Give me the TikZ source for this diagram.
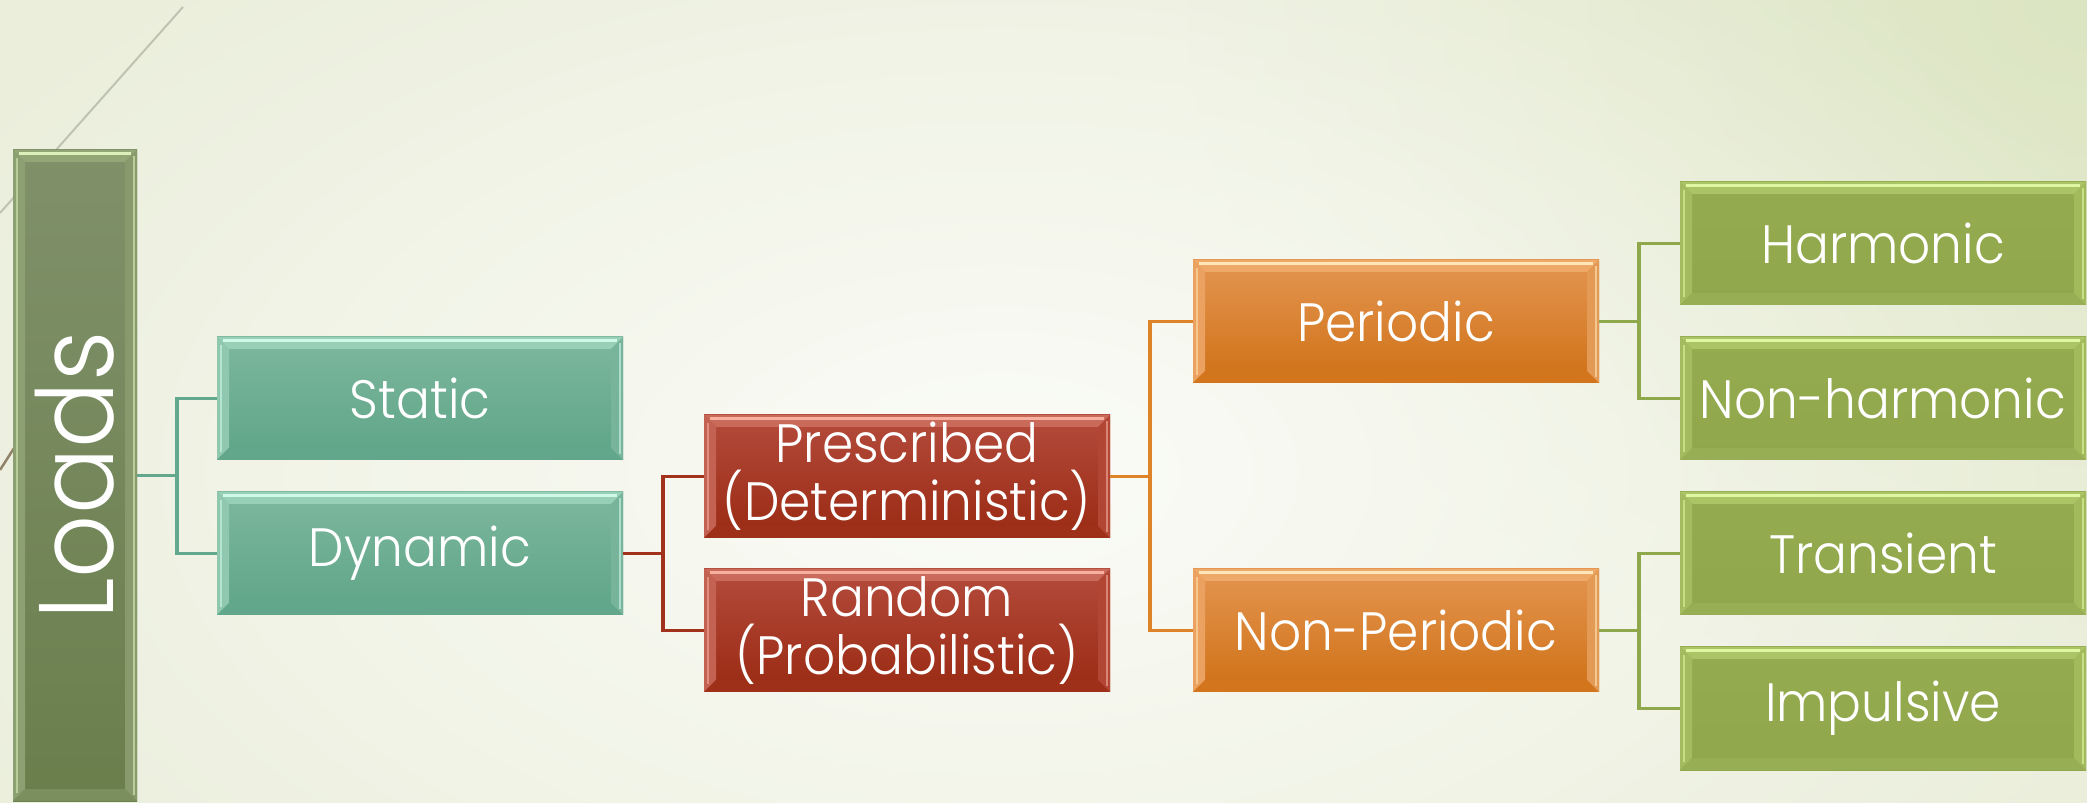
\documentclass[tikz,border=0pt]{standalone}
\usepackage{fontspec}
\IfFontExistsTF{Poppins Light}
  {\setmainfont{Poppins Light}[FakeStretch=0.93]}
  {\setmainfont{Poppins}[FakeStretch=0.93]}
\usepackage{graphicx}
\usetikzlibrary{calc,fadings}

\tikzfading[name=soft glow, inner color=transparent!0, outer color=transparent!100]

% palette: <name>top / bot = body gradient, lt = left/top bevel, hl = edge highlight,
% dk = bottom bevel, rt = right bevel, line = connector colour
\definecolor{bgbase}{HTML}{EAEEDA}
\definecolor{bgcentre}{HTML}{FBFCF8}
\definecolor{bgcorner}{HTML}{DCE5C2}

\definecolor{tealtop}{HTML}{7DB79E}
\definecolor{tealbot}{HTML}{5EA588}
\definecolor{teallt}{HTML}{98CFB7}
\definecolor{tealhl}{HTML}{CFF8E8}
\definecolor{tealdk}{HTML}{62A68B}
\definecolor{tealrt}{HTML}{78B49C}
\definecolor{tealline}{HTML}{62A88C}

\definecolor{redtop}{HTML}{B44B3C}
\definecolor{redbot}{HTML}{9A2A13}
\definecolor{redlt}{HTML}{C96A5B}
\definecolor{redhl}{HTML}{F7B0A0}
\definecolor{reddk}{HTML}{9E2F18}
\definecolor{redrt}{HTML}{B24634}
\definecolor{redline}{HTML}{A3321D}

\definecolor{orangetop}{HTML}{E49551}
\definecolor{orangebot}{HTML}{CF7116}
\definecolor{orangelt}{HTML}{EEA868}
\definecolor{orangehl}{HTML}{FFE6B8}
\definecolor{orangedk}{HTML}{D2751C}
\definecolor{orangert}{HTML}{E39A55}
\definecolor{orangeline}{HTML}{DE8328}

\definecolor{greentop}{HTML}{95AB50}
\definecolor{greenbot}{HTML}{91A74C}
\definecolor{greenlt}{HTML}{AAC466}
\definecolor{greenhl}{HTML}{E0F7A2}
\definecolor{greendk}{HTML}{98AE54}
\definecolor{greenrt}{HTML}{A2BA5C}
\definecolor{greenline}{HTML}{8FA84C}

\definecolor{olivetop}{HTML}{80916A}
\definecolor{olivebot}{HTML}{6A7E4C}
\definecolor{olivelt}{HTML}{93A676}
\definecolor{olivehl}{HTML}{DCF0BC}
\definecolor{olivedk}{HTML}{7A8E5E}
\definecolor{olivert}{HTML}{889A6C}

\tikzset{
  x=1pt, y=1pt,
  bevel/.style={
    rectangle, inner sep=0pt, text=white, align=center,
    top color=#1top, bottom color=#1bot,
    path picture={
      \path (path picture bounding box.north west) coordinate (pNW)
            (path picture bounding box.north east) coordinate (pNE)
            (path picture bounding box.south west) coordinate (pSW)
            (path picture bounding box.south east) coordinate (pSE);
      % top, left, bottom and right bevel faces
      \fill[#1lt] (pNW) -- (pNE) -- ([shift={(-12,-12)}]pNE) -- ([shift={(12,-12)}]pNW) -- cycle;
      \fill[#1lt!70!#1top] (pNW) -- ([shift={(12,-12)}]pNW) -- ([shift={(12,12)}]pSW) -- (pSW) -- cycle;
      \fill[#1dk] (pSW) -- ([shift={(12,12)}]pSW) -- ([shift={(-12,12)}]pSE) -- (pSE) -- cycle;
      \fill[#1rt] (pNE) -- (pSE) -- ([shift={(-12,12)}]pSE) -- ([shift={(-12,-12)}]pNE) -- cycle;
      % thin highlights along the edges
      \draw[#1hl, line width=3pt] ([shift={(6,-3.5)}]pNW) -- ([shift={(-6,-3.5)}]pNE);
      \draw[#1hl!60!#1rt, line width=2.5pt] ([shift={(-3,-6)}]pNE) -- ([shift={(-3,6)}]pSE);
      \draw[#1hl!50!#1lt, line width=2pt] ([shift={(4,-8)}]pNW) -- ([shift={(4,8)}]pSW);
    }
  },
  item/.style={bevel=#1, minimum width=406pt, minimum height=123pt,
    font=\fontsize{54}{58}\selectfont},
  link/.style={line width=3.5pt, draw=#1, line join=miter},
}

\begin{document}
\begin{tikzpicture}
  % backdrop: pale base, greener upper right, light glow in the middle
  \fill[bgbase] (0,0) rectangle (2087,803);
  \begin{scope}
    \clip (0,0) rectangle (2087,803);
    \fill[bgcorner, path fading=soft glow] (2087,803) ellipse (900 and 700);
    \fill[bgcentre, path fading=soft glow] (1000,330) ellipse (1250 and 700);
  \end{scope}
  \useasboundingbox (0,0) rectangle (2087,803);

  % thin swoosh lines at the left
  \draw[color=black!18!bgbase, line width=2pt] (183,796) -- (0,590);
  \draw[color=black!55!brown!60!bgbase, line width=2.5pt] (0,333) -- (16,358);

  % boxes
  \node[bevel=olive, minimum width=124pt, minimum height=651pt,
        font=\fontsize{106}{106}\selectfont] (loads) at (75,327.5) {\rotatebox{90}{Loads}};

  \node[item=teal] (static)  at (420,404.5) {Static};
  \node[item=teal] (dynamic) at (420,249.5) {Dynamic};

  \node[item=red] (presc)  at (907,326.5) {Prescribed\\(Deterministic)};
  \node[item=red] (random) at (907,172.5) {Random\\(Probabilistic)};

  \node[item=orange] (periodic) at (1396,481.5) {Periodic};
  \node[item=orange] (nonper)   at (1396,172.5) {Non-Periodic};

  \node[item=green] (harm)    at (1883,559.5) {Harmonic};
  \node[item=green] (nonharm) at (1883,404.5) {Non-harmonic};
  \node[item=green] (trans)   at (1883,249.5) {Transient};
  \node[item=green] (impul)   at (1883,94.5)  {Impulsive};

  % connectors
  \draw[link=tealline] (loads.east) -- ++(40,0) coordinate (j1);
  \draw[link=tealline] (static.west) -| (j1) |- (dynamic.west);

  \draw[link=redline] (dynamic.east) -- ++(40,0) coordinate (j2);
  \draw[link=redline] (presc.west) -| (j2) |- (random.west);

  \draw[link=orangeline] (presc.east) -- ++(40,0) coordinate (j3);
  \draw[link=orangeline] (periodic.west) -| (j3) |- (nonper.west);

  \draw[link=greenline] (periodic.east) -- ++(40,0) coordinate (j4);
  \draw[link=greenline] (harm.west) -| (j4) |- (nonharm.west);

  \draw[link=greenline] (nonper.east) -- ++(40,0) coordinate (j5);
  \draw[link=greenline] (trans.west) -| (j5) |- (impul.west);
\end{tikzpicture}
\end{document}
